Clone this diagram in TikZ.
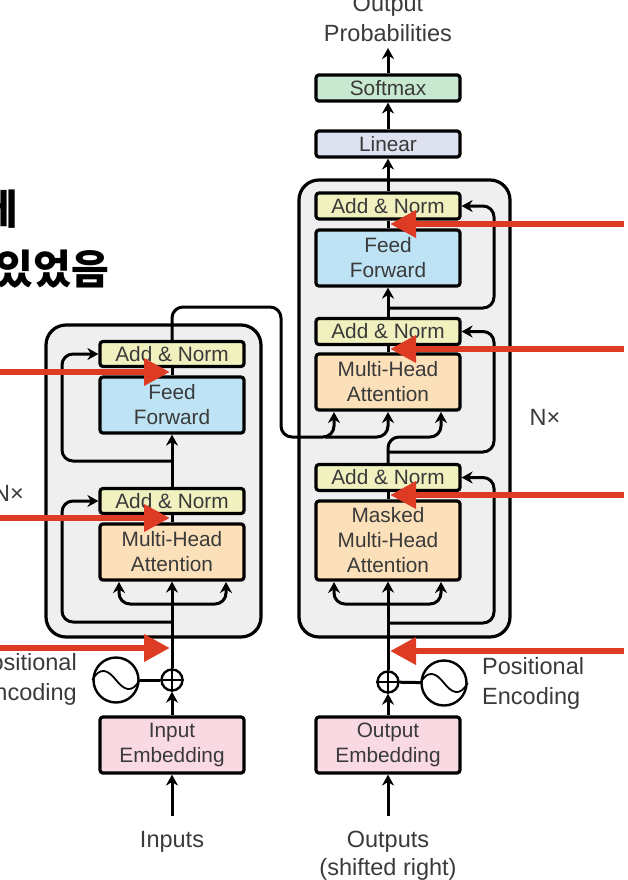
\documentclass[tikz,border=0pt]{standalone}
\usepackage{fontspec}
\setmainfont{Liberation Sans}
\newfontfamily\cjk{Noto Sans CJK KR}[BoldFont=* Black]
\usepackage{xcolor}
\usetikzlibrary{arrows.meta,shapes,positioning,calc}
\definecolor{addnorm}{HTML}{F1F1C0}
\definecolor{feedblue}{HTML}{BEE3F5}
\definecolor{attnorange}{HTML}{FBE0BA}
\definecolor{embedpink}{HTML}{F9DAE2}
\definecolor{softgreen}{HTML}{C8E8CF}
\definecolor{linearblue}{HTML}{DDE1F0}
\definecolor{stackgray}{HTML}{EFEFEF}
\definecolor{tagred}{HTML}{DE3B24}
\definecolor{inktext}{HTML}{3A3A3A}
\tikzset{
  blockbox/.style={draw=black, line width=3.2pt, rounded corners=3pt, inner sep=0pt,
    minimum width=144pt, align=center, text=inktext,
    font=\fontsize{20.8}{25}\selectfont},
  stackbox/.style={draw=black, line width=3.2pt, rounded corners=20pt, fill=stackgray, inner sep=0pt},
  plainlabel/.style={inner sep=0pt, text=inktext, font=\fontsize{23.5}{30}\selectfont},
  flow/.style={line width=3pt, -{Stealth[length=11pt,width=12pt]}, rounded corners=11pt},
  plainflow/.style={line width=3pt, rounded corners=11pt},
  sinecircle/.style={circle, draw=black, line width=2.4pt, minimum size=45pt, inner sep=0pt},
  addcircle/.style={circle, draw=black, line width=2.4pt, minimum size=21pt, inner sep=0pt},
  redarrow/.style={draw=tagred, line width=6.5pt, -{Triangle[length=26pt,width=26pt]}},
  headtext/.style={inner sep=0pt, anchor=east, font=\cjk\bfseries\fontsize{41}{41}\selectfont}
}

\begin{document}
\begin{tikzpicture}[x=1pt,y=-1pt]
    \useasboundingbox (0,0) rectangle (628,880);
    \clip (0,0) rectangle (628,880);

    % Heading cut off at the left edge
    \node[headtext] (headA) at (18,209) {에};
    \node[headtext] (headB) at (109,269) {있었음};

    % Stacks
    \node[stackbox, minimum width=215pt, minimum height=312pt] (stackL) at (153.5,481) {};
    \node[stackbox, minimum width=211pt, minimum height=457pt] (stackR) at (404.5,408.5) {};

    % Encoder
    \node[blockbox, fill=addnorm, minimum height=25pt] (normLb) at (172,354) {Add \& Norm};
    \node[blockbox, fill=feedblue, minimum height=56pt] (feedL) at (172,405) {\raisebox{1.5pt}{Feed}\\\raisebox{1.5pt}{Forward}};
    \node[blockbox, fill=addnorm, minimum height=25pt] (normLa) at (172,501) {Add \& Norm};
    \node[blockbox, fill=attnorange, minimum height=56pt] (attnL) at (172,552) {\raisebox{1.5pt}{Multi-Head}\\\raisebox{1.5pt}{Attention}};
    \node[blockbox, fill=embedpink, minimum height=56pt] (embedL) at (172,745) {Input\\Embedding};

    % Decoder
    \node[blockbox, fill=softgreen, minimum height=26pt] (softmax) at (388,88) {Softmax};
    \node[blockbox, fill=linearblue, minimum height=26pt] (linear) at (388,144) {Linear};
    \node[blockbox, fill=addnorm, minimum height=26pt] (normRc) at (388,206) {Add \& Norm};
    \node[blockbox, fill=feedblue, minimum height=56pt] (feedR) at (388,258) {\raisebox{1pt}{Feed}\\\raisebox{1pt}{Forward}};
    \node[blockbox, fill=addnorm, minimum height=26pt] (normRb) at (388,331.5) {Add \& Norm};
    \node[blockbox, fill=attnorange, minimum height=56pt] (attnR) at (388,382) {Multi-Head\\Attention};
    \node[blockbox, fill=addnorm, minimum height=26pt] (normRa) at (388,477.5) {Add \& Norm};
    \node[blockbox, fill=attnorange, minimum height=79pt] (maskR) at (388,540.5) {\raisebox{1pt}{Masked}\\\raisebox{1pt}{Multi-Head}\\\raisebox{1pt}{Attention}};
    \node[blockbox, fill=embedpink, minimum height=56pt] (embedR) at (388,745) {Output\\Embedding};

    % Positional encoding
    \node[addcircle] (addL) at (172,680) {};
    \node[sinecircle] (sineL) at (116,680) {};
    \node[addcircle] (addR) at (388,682) {};
    \node[sinecircle] (sineR) at (444,683) {};
    \draw[line width=1.8pt] (addL.north) -- (addL.south) (addL.west) -- (addL.east);
    \draw[line width=1.8pt] (addR.north) -- (addR.south) (addR.west) -- (addR.east);
    \draw[line width=1.8pt] (sineL.west) .. controls +(8,-14) and +(-8,-10) .. (sineL.center)
        .. controls +(8,10) and +(-8,14) .. (sineL.east);
    \draw[line width=1.8pt] (sineR.west) .. controls +(8,-14) and +(-8,-10) .. (sineR.center)
        .. controls +(8,10) and +(-8,14) .. (sineR.east);
    \draw[plainflow] (sineL) -- (addL);
    \draw[plainflow] (addR) -- (sineR);

    % Labels
    \node[plainlabel, align=center] (outLabel) at (388,18) {Output\\Probabilities};
    \node[plainlabel, anchor=base] (inputs) at (172,847) {Inputs};
    \node[plainlabel, align=center, anchor=base] (outputs) at (388,875) {Outputs\\[-2pt](shifted right)};
    \node[plainlabel, align=left, anchor=west] (posR) at (482,683) {Positional\\Encoding};
    \node[plainlabel, align=right, anchor=east] (posL) at (77,679) {Positional\\Encoding};
    \node[plainlabel] (timesR) at (545,417) {N×};
    \node[plainlabel, anchor=east] (timesL) at (24,493) {N×};

    % Free ends and bends
    \coordinate (inFree) at (172,816);
    \coordinate (outFree) at (388,816);
    \coordinate (probFree) at (388,48);
    \coordinate (tapLa) at (172,604);
    \coordinate (tapLb) at (172,622);
    \coordinate (tapLc) at (172,461);
    \coordinate (sideLb) at (62,622);
    \coordinate (sideLc) at (62,461);
    \coordinate (attnLa) at (119,582);
    \coordinate (attnLc) at (226,582);
    \coordinate (memTop) at (281,307);
    \coordinate (memBot) at (281,437);
    \coordinate (memMid) at (325,437);
    \coordinate (crossR) at (388,437);
    \coordinate (attnRa) at (334,412);
    \coordinate (attnRb) at (388,412);
    \coordinate (attnRc) at (441,412);
    \coordinate (tapRa) at (388,604);
    \coordinate (tapRb) at (388,623);
    \coordinate (tapRc) at (388,452);
    \coordinate (tapRd) at (388,308);
    \coordinate (sideRb) at (494,623);
    \coordinate (sideRc) at (494,452);
    \coordinate (sideRd) at (494,308);
    \coordinate (maskRa) at (334,582);
    \coordinate (maskRc) at (441,582);

    % Encoder connectors
    \draw[flow] (inFree) -- (embedL.south);
    \draw[flow] (embedL.north) -- (addL.south);
    \draw[flow] (addL.north) -- (attnL.south);
    \draw[flow] (tapLa) -| (attnLa);
    \draw[flow] (tapLa) -| (attnLc);
    \draw[flow] (tapLb) -- (sideLb) |- (normLa.west);
    \draw[plainflow] (attnL.north) -- (normLa.south);
    \draw[flow] (normLa.north) -- (feedL.south);
    \draw[flow] (tapLc) -- (sideLc) |- (normLb.west);
    \draw[plainflow] (feedL.north) -- (normLb.south);

    % Encoder to decoder
    \draw[flow] (normLb.north) |- (memTop) -- (memBot) -| (attnRa);
    \draw[flow] (memMid) -| (attnRb);
    \draw[flow] (normRa.north) -- (crossR) -| (attnRc);

    % Decoder connectors
    \draw[flow] (outFree) -- (embedR.south);
    \draw[flow] (embedR.north) -- (addR.south);
    \draw[flow] (addR.north) -- (maskR.south);
    \draw[flow] (tapRa) -| (maskRa);
    \draw[flow] (tapRa) -| (maskRc);
    \draw[flow] (tapRb) -- (sideRb) |- (normRa.east);
    \draw[plainflow] (maskR.north) -- (normRa.south);
    \draw[flow] (tapRc) -- (sideRc) |- (normRb.east);
    \draw[plainflow] (attnR.north) -- (normRb.south);
    \draw[flow] (normRb.north) -- (feedR.south);
    \draw[flow] (tapRd) -- (sideRd) |- (normRc.east);
    \draw[plainflow] (feedR.north) -- (normRc.south);
    \draw[flow] (normRc.north) -- (linear.south);
    \draw[flow] (linear.north) -- (softmax.south);
    \draw[flow] (softmax.north) -- (probFree);

    % Red markers
    \coordinate (redLaS) at (-5,372);
    \coordinate (redLaT) at (170,372);
    \coordinate (redLbS) at (-5,518);
    \coordinate (redLbT) at (170,518);
    \coordinate (redLcS) at (-5,648);
    \coordinate (redLcT) at (170,648);
    \coordinate (redRaS) at (624,224);
    \coordinate (redRaT) at (390,224);
    \coordinate (redRbS) at (624,349);
    \coordinate (redRbT) at (390,349);
    \coordinate (redRcS) at (624,495);
    \coordinate (redRcT) at (390,495);
    \coordinate (redRdS) at (624,651);
    \coordinate (redRdT) at (390,651);
    \draw[redarrow] (redLaS) -- (redLaT);
    \draw[redarrow] (redLbS) -- (redLbT);
    \draw[redarrow] (redLcS) -- (redLcT);
    \draw[redarrow] (redRaS) -- (redRaT);
    \draw[redarrow] (redRbS) -- (redRbT);
    \draw[redarrow] (redRcS) -- (redRcT);
    \draw[redarrow] (redRdS) -- (redRdT);
\end{tikzpicture}
\end{document}
